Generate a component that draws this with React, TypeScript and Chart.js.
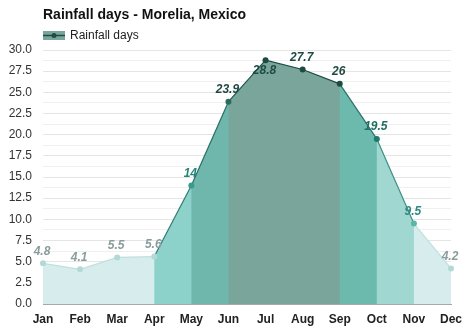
import React, { useEffect, useRef } from "react";
import { Chart, registerables } from "chart.js";

Chart.register(...registerables);

const TITLE = "Rainfall days - Morelia, Mexico";
const SERIES_NAME = "Rainfall days";
const months = ["Jan", "Feb", "Mar", "Apr", "May", "Jun", "Jul", "Aug", "Sep", "Oct", "Nov", "Dec"];
const rainfallDays = [4.8, 4.1, 5.5, 5.6, 14, 23.9, 28.8, 27.7, 26, 19.5, 9.5, 4.2];
const yMin = 0;
const yMax = 30;
const yStep = 1.25;
const yLabelStep = 2.5;

// styles per segment (segment i goes from point i to point i+1)
const segFill = ["#d7eded", "#d7eded", "#d7eded", "#8cd2ca", "#6fb7ad", "#7aa59b", "#7aa59b", "#7aa59b", "#6cbaae", "#a0d8d1", "#d7eded"];
const segLine = ["#bfe0dd", "#bfe0dd", "#bfe0dd", "#2e7d72", "#2a6e64", "#1e554c", "#1d4d46", "#1d4d46", "#2a7167", "#3d8f84", "#bfe0dd"];
const pointColors = ["#b3d9d5", "#b3d9d5", "#b3d9d5", "#b3d9d5", "#3a9a8e", "#2a6a60", "#1e4a42", "#1e4a42", "#1e4a42", "#1d7a6c", "#5bb5a8", "#b3d9d5"];
const labelColors = ["#8a9c9c", "#8a9c9c", "#8a9c9c", "#8a9c9c", "#24867a", "#1f4b44", "#1f4b44", "#1f4b44", "#1f4b44", "#1e6f65", "#2f8a80", "#8a9c9c"];

const FONT = "'Liberation Sans', Arial, Helvetica, sans-serif";

const headerPlugin = {
  id: "header",
  afterDraw(chart: any) {
    const ctx = chart.ctx;
    const left = chart.chartArea.left;
    ctx.save();
    ctx.fillStyle = "#111";
    ctx.font = `bold 14px ${FONT}`;
    ctx.textBaseline = "middle";
    ctx.textAlign = "left";
    ctx.fillText(TITLE, left, 15);
    // legend
    ctx.fillStyle = "#7aa59b";
    ctx.fillRect(left, 31, 22, 9);
    ctx.strokeStyle = "#1d4d46";
    ctx.lineWidth = 1.5;
    ctx.beginPath();
    ctx.moveTo(left, 35.5);
    ctx.lineTo(left + 22, 35.5);
    ctx.stroke();
    ctx.fillStyle = "#1d4d46";
    ctx.beginPath();
    ctx.arc(left + 11, 35.5, 2.5, 0, Math.PI * 2);
    ctx.fill();
    ctx.fillStyle = "#222";
    ctx.font = `12px ${FONT}`;
    ctx.fillText(SERIES_NAME, left + 27, 35.5);
    ctx.restore();
  },
};

// segment-coloured area fill, computed from the library's element positions
const areaPlugin = {
  id: "segmentArea",
  beforeDatasetsDraw(chart: any) {
    const ctx = chart.ctx;
    const meta = chart.getDatasetMeta(0);
    const base = chart.scales.y.getPixelForValue(yMin);
    const pts = meta.data;
    ctx.save();
    for (let i = 0; i < pts.length - 1; i++) {
      const a = pts[i];
      const b = pts[i + 1];
      const ext = i < pts.length - 2 ? 0.6 : 0;
      const slope = (b.y - a.y) / (b.x - a.x);
      ctx.fillStyle = segFill[i];
      ctx.beginPath();
      ctx.moveTo(a.x, base);
      ctx.lineTo(a.x, a.y);
      ctx.lineTo(b.x + ext, b.y + slope * ext);
      ctx.lineTo(b.x + ext, base);
      ctx.closePath();
      ctx.fill();
    }
    ctx.restore();
  },
};

const labelPlugin = {
  id: "valueLabels",
  afterDraw(chart: any) {
    const ctx = chart.ctx;
    const meta = chart.getDatasetMeta(0);
    ctx.save();
    ctx.font = `italic bold 12px ${FONT}`;
    ctx.textAlign = "center";
    ctx.textBaseline = "middle";
    meta.data.forEach((pt: any, i: number) => {
      const v = rainfallDays[i];
      const prev = i > 0 ? rainfallDays[i - 1] : -Infinity;
      const next = i < rainfallDays.length - 1 ? rainfallDays[i + 1] : -Infinity;
      const isPeak = v > prev && v > next && i > 0 && i < rainfallDays.length - 1 && v > 20;
      const dy = isPeak ? 11 : -12;
      ctx.fillStyle = labelColors[i];
      ctx.fillText(String(v), pt.x - 1, pt.y + dy);
    });
    ctx.restore();
  },
};

export default function App() {
  const ref = useRef<HTMLCanvasElement>(null);
  useEffect(() => {
    const chart = new Chart(ref.current!, {
      type: "line",
      data: {
        labels: months,
        datasets: [
          {
            label: SERIES_NAME,
            data: rainfallDays,
            fill: false,
            borderWidth: 1.2,
            tension: 0,
            pointRadius: 3,
            pointHoverRadius: 3,
            pointBorderWidth: 0,
            pointBackgroundColor: pointColors,
            pointBorderColor: pointColors,
            borderColor: "#1d4d46",
            backgroundColor: "#7aa59b",
            segment: {
              borderColor: (c: any) => segLine[c.p0DataIndex],
            },
          } as any,
        ],
      },
      options: {
        responsive: false,
        animation: false,
        layout: { padding: { top: 50, left: 0, right: 23, bottom: 0 } },
        plugins: {
          legend: { display: false },
          title: { display: false },
          tooltip: { enabled: false },
        },
        scales: {
          x: {
            type: "category",
            offset: false,
            grid: { display: false, drawTicks: false },
            border: { display: true, color: "#a8a8a8", width: 1 },
            ticks: {
              padding: 8,
              color: "#222",
              font: { family: FONT, size: 12, weight: "bold" },
              maxRotation: 0,
              autoSkip: false,
            },
            afterFit: (s: any) => {
              s.height = 27;
            },
          },
          y: {
            min: yMin,
            max: yMax,
            z: 1,
            grid: {
              drawTicks: false,
              color: (c: any) =>
                c.tick && Math.abs(c.tick.value % yLabelStep) < 1e-6 ? "rgba(0,0,0,0.1)" : "rgba(0,0,0,0.06)",
              lineWidth: 1,
            },
            border: { display: false },
            ticks: {
              stepSize: yStep,
              autoSkip: false,
              padding: 11,
              color: "#333",
              font: { family: FONT, size: 12 },
              callback: (v: any) =>
                Math.abs(Number(v) % yLabelStep) < 1e-6 ? Number(v).toFixed(1) : "",
            },
            afterFit: (s: any) => {
              s.width = 43;
            },
          },
        },
      },
      plugins: [areaPlugin, headerPlugin, labelPlugin],
    });
    return () => chart.destroy();
  }, []);
  return (
    <div style={{ position: "fixed", left: 0, top: 0, width: 474, height: 331, background: "#fff" }}>
      <canvas ref={ref} width={474} height={331} style={{ display: "block" }} />
    </div>
  );
}
